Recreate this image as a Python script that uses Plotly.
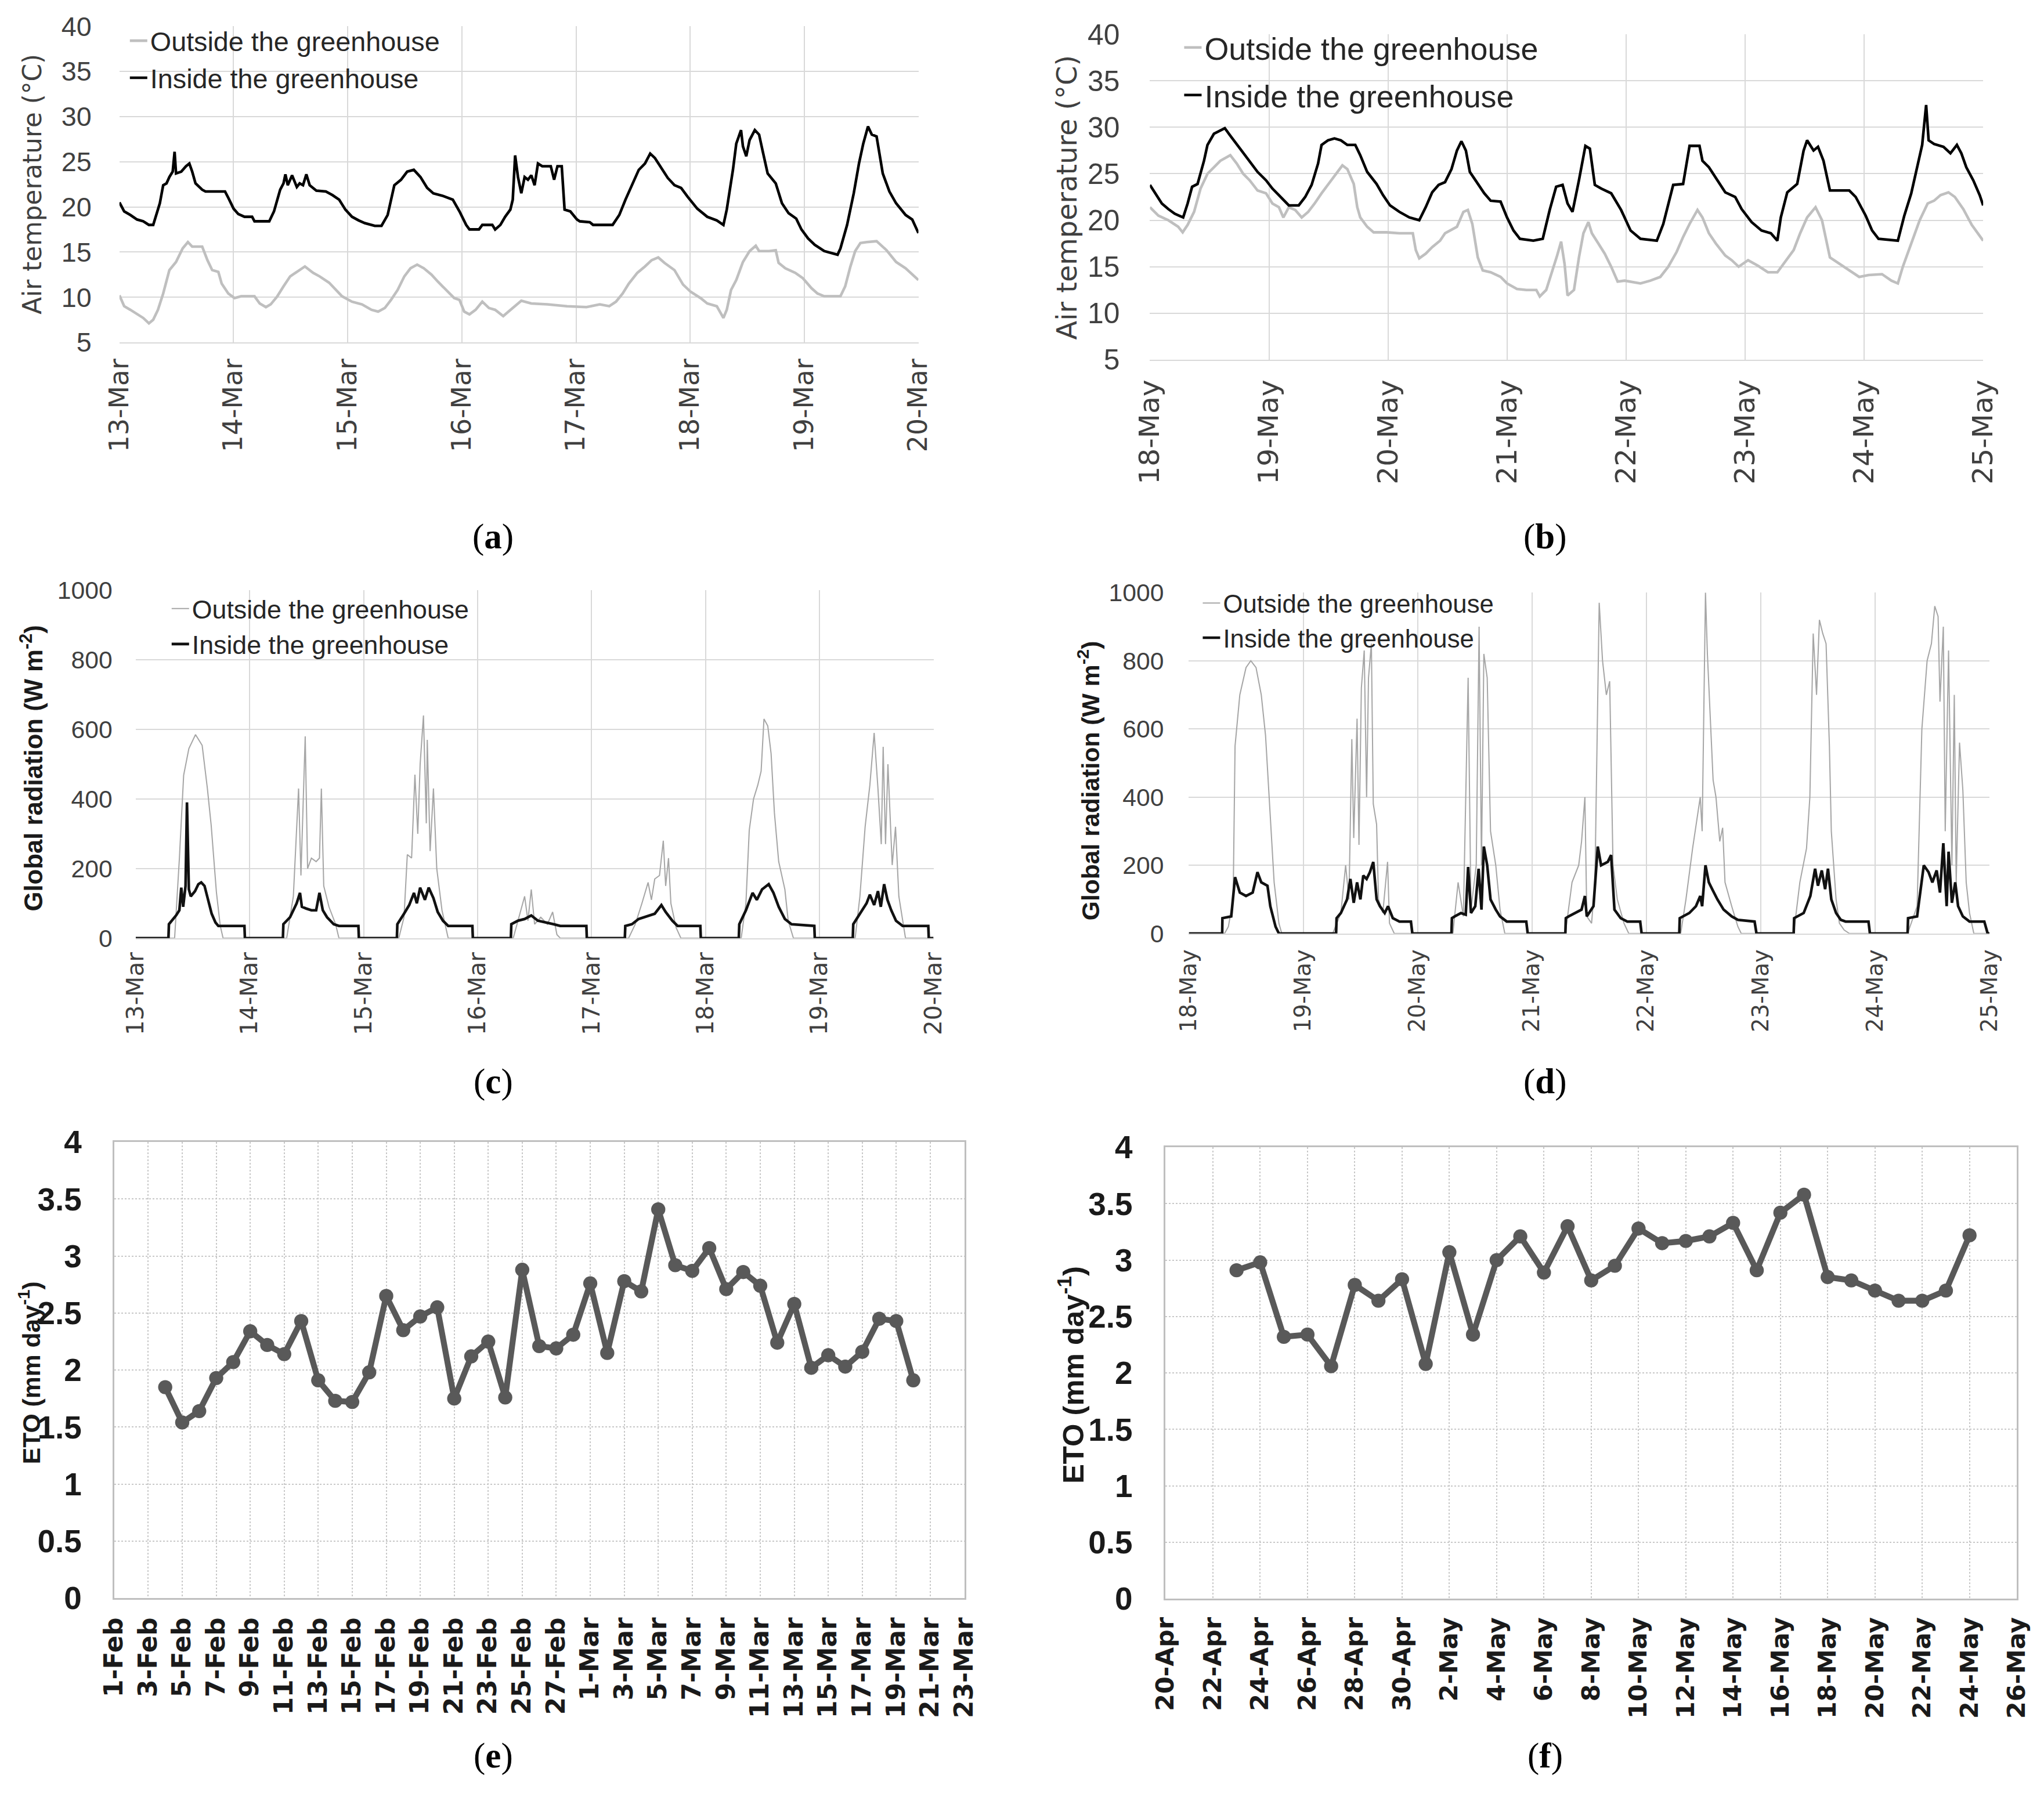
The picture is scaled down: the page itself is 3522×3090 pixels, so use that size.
import pandas as pd
import plotly.graph_objects as go

W, H = 3522, 3090

# ---- data: (hours since start of first day, value) ----
temp_mar_in = [(0, 20.5), (1, 19.5), (2.3, 19.1), (3.7, 18.6), (5, 18.4), (6.2, 18.0), (7.1, 18.0), (7.8, 19.3),
               (8.5, 20.4), (9.2, 22.4), (9.9, 22.6), (10.5, 23.3), (11.2, 23.9), (11.6, 26.1), (11.9, 23.7),
               (13, 23.9), (14, 24.5), (14.7, 24.8), (15.3, 23.9), (16, 22.6), (17.4, 21.9), (18.1, 21.7),
               (22.2, 21.7), (22.9, 21.0), (24, 19.8), (25, 19.2), (26.3, 18.9), (27.9, 18.9), (28.4, 18.4),
               (31.5, 18.4), (32.5, 19.5), (33.8, 21.9), (34.5, 22.6), (34.9, 23.6), (35.4, 22.4), (36.3, 23.5),
               (37.3, 22.2), (37.9, 22.6), (38.6, 22.4), (39.3, 23.6), (40, 22.4), (41.4, 21.8), (43.4, 21.7),
               (44.8, 21.3), (46.2, 20.8), (47.5, 19.7), (48.9, 18.9), (50.3, 18.5), (51.6, 18.2), (53.7, 17.9),
               (55.1, 17.9), (56.4, 19.1), (57.8, 22.4), (59.2, 23.0), (60.5, 23.9), (61.9, 24.1), (63.3, 23.3),
               (64.7, 22.1), (66, 21.5), (68.1, 21.2), (70.1, 20.8), (71.5, 19.5), (72.9, 18.0), (73.6, 17.5),
               (75.6, 17.5), (76.3, 18.0), (78.4, 18.0), (79, 17.5), (80.1, 18.0), (81.1, 18.9), (82.2, 19.7),
               (82.7, 20.8), (83.2, 25.7), (83.8, 23.3), (84.5, 21.5), (85.2, 23.3), (85.9, 23.0), (86.6, 23.5),
               (87.3, 22.4), (88, 24.8), (88.9, 24.5), (90.7, 24.5), (91.4, 23.0), (92.1, 24.5), (93, 24.5),
               (93.6, 19.7), (94.8, 19.5), (96.2, 18.6), (96.8, 18.4), (98.9, 18.3), (99.6, 18.0), (103.7, 18.0),
               (105.1, 19.1), (106.4, 20.8), (107.8, 22.4), (109.2, 24.1), (110.5, 24.8), (111.6, 25.9),
               (112.6, 25.4), (114, 24.3), (115.3, 23.2), (116.7, 22.4), (118.1, 22.1), (119.5, 21.1),
               (121.5, 19.8), (123.6, 18.9), (125.6, 18.5), (127, 18.0), (127.7, 19.7), (129, 24.1), (129.7, 27.0),
               (130.7, 28.5), (131.1, 26.7), (131.8, 25.6), (132.5, 27.4), (133.6, 28.5), (134.5, 28.0),
               (135.2, 26.3), (136.3, 23.7), (138, 22.6), (139.3, 20.4), (140.7, 19.3), (142.3, 18.7),
               (143.4, 17.5), (144.8, 16.5), (146.2, 15.8), (148.2, 15.1), (151, 14.7), (151.6, 15.4), (153, 18.0),
               (154.4, 21.5), (155.5, 24.8), (156.4, 27.0), (157.4, 28.9), (158.2, 28.0), (159.2, 27.8),
               (160.5, 23.7), (161.9, 21.7), (163.3, 20.4), (165.3, 19.1), (166.7, 18.6), (168, 17.1)]

temp_mar_out = [(0, 10.2), (1, 9.0), (2.3, 8.6), (3.7, 8.1), (5, 7.7), (6.2, 7.1), (7.1, 7.5), (8.1, 8.6),
                (9.2, 10.4), (10.5, 13.0), (11.9, 13.9), (13.3, 15.4), (14.4, 16.1), (15.3, 15.6), (17.4, 15.6),
                (18.5, 14.1), (19.5, 13.0), (20.8, 12.8), (21.5, 11.5), (22.9, 10.4), (24.2, 9.9), (25.6, 10.1),
                (28.4, 10.1), (29.5, 9.3), (30.8, 8.9), (31.8, 9.2), (33.2, 10.1), (34.5, 11.2), (35.9, 12.3),
                (37.3, 12.8), (39, 13.4), (40.7, 12.7), (42.1, 12.3), (44.1, 11.6), (45.5, 10.8), (46.8, 10.1),
                (48.9, 9.5), (51, 9.2), (53, 8.6), (54.4, 8.4), (55.8, 8.8), (57.1, 9.7), (58.5, 10.8),
                (59.9, 12.3), (61.2, 13.2), (62.6, 13.6), (64, 13.2), (65.6, 12.5), (67, 11.7), (68.8, 10.8),
                (70.4, 9.9), (71.5, 9.7), (72.5, 8.4), (73.6, 8.1), (74.9, 8.6), (76.3, 9.5), (77.7, 8.8),
                (79, 8.6), (80.7, 7.9), (81.8, 8.4), (83.2, 9.0), (84.5, 9.6), (86.6, 9.3), (90, 9.2), (94.1, 9.0),
                (98.2, 8.9), (101, 9.2), (103, 9.0), (104.4, 9.5), (105.8, 10.4), (107.1, 11.5), (108.9, 12.7),
                (110.5, 13.4), (111.9, 14.1), (113.3, 14.4), (114.6, 13.8), (116.7, 13.0), (118.5, 11.4),
                (120.1, 10.6), (122.2, 9.9), (123.6, 9.3), (125.6, 9.0), (127, 7.7), (127.7, 8.6), (128.6, 10.8),
                (129.7, 11.9), (131.1, 13.9), (132.5, 15.1), (133.8, 15.7), (134.5, 15.1), (136.6, 15.1),
                (138, 15.2), (138.6, 13.8), (140, 13.2), (142.1, 12.7), (143.7, 12.1), (145.5, 11.0),
                (146.8, 10.4), (148.2, 10.1), (151.6, 10.1), (152.6, 11.2), (153.7, 13.4), (154.7, 15.1),
                (155.8, 16.0), (157.1, 16.1), (159.2, 16.2), (161.3, 15.2), (163.3, 13.9), (165.3, 13.2),
                (166.7, 12.5), (168, 11.9)]

temp_may_in = [(0, 23.8), (1.05, 22.9), (2.4, 21.8), (3.7, 21.2), (5, 20.7), (6.7, 20.3), (7.6, 21.8), (8.5, 23.6),
               (9.6, 23.9), (10.9, 26.4), (11.6, 28.1), (12.9, 29.3), (14.2, 29.7), (15.1, 29.9), (16.2, 29.1),
               (17.5, 28.2), (18.8, 27.2), (20.1, 26.3), (21.7, 25.2), (23.4, 24.3), (24.7, 23.4), (26, 22.7),
               (28, 21.6), (30, 21.6), (31.3, 22.5), (32.6, 23.8), (33.9, 26.1), (34.6, 28.1), (35.9, 28.6),
               (37.2, 28.8), (38.5, 28.6), (39.8, 28.1), (41.4, 28.1), (42.4, 27.0), (43.8, 25.2), (45.7, 23.9),
               (47, 22.7), (48.4, 21.6), (50.3, 20.9), (52.3, 20.3), (54.3, 20.0), (55.6, 21.4), (56.9, 23.0),
               (58.2, 23.8), (59.5, 24.1), (60.8, 25.5), (61.9, 27.5), (62.8, 28.5), (63.7, 27.5), (64.5, 25.2),
               (66.1, 23.9), (67.4, 22.9), (68.7, 22.1), (70.7, 22.0), (72, 20.3), (73.3, 18.9), (74.6, 18.0),
               (77.3, 17.8), (79.2, 18.0), (80.6, 21.1), (81.9, 23.6), (83.2, 23.8), (84.2, 21.8), (85.2, 20.9),
               (86.5, 24.3), (87.8, 28.0), (88.7, 27.7), (89.7, 23.8), (91, 23.4), (93, 22.9), (95, 21.1),
               (96.9, 18.9), (98.9, 18.0), (102.2, 17.8), (103.5, 19.6), (105.5, 23.8), (107.5, 23.9),
               (108.8, 28.0), (110.8, 28.0), (111.4, 26.4), (112.7, 25.7), (114.1, 24.5), (116, 23.0),
               (118, 22.5), (119.3, 21.2), (121.3, 19.8), (123.3, 18.9), (125.2, 18.6), (126.5, 17.8),
               (127.2, 20.3), (128.5, 23.0), (130.5, 23.9), (131.8, 27.5), (132.5, 28.6), (133.8, 27.5),
               (134.7, 27.9), (135.8, 26.4), (137.1, 23.2), (141, 23.2), (142.3, 22.5), (144.3, 20.5),
               (145.6, 18.9), (146.9, 18.0), (150.8, 17.8), (152.1, 20.5), (153.5, 22.9), (154.8, 26.1),
               (155.7, 28.1), (156.5, 32.4), (157, 28.6), (158.1, 28.2), (160, 27.9), (161.4, 27.2), (162.7, 28.1),
               (163.6, 27.2), (164.6, 25.7), (166, 24.3), (167.3, 22.7), (168, 21.6)]

temp_may_out = [(0, 21.4), (1.7, 20.5), (3.7, 20.0), (5.7, 19.3), (6.6, 18.7), (7.6, 19.5), (8.9, 20.9),
                (10.2, 23.4), (11.6, 25.0), (12.9, 25.7), (14.2, 26.4), (16.2, 27.0), (17.5, 26.1), (18.8, 25.0),
                (20.1, 24.3), (21.7, 23.2), (23.4, 22.9), (24.7, 21.8), (26, 21.4), (26.9, 20.3), (28, 21.4),
                (29.3, 21.1), (30.6, 20.3), (31.9, 20.9), (33.2, 21.8), (34.6, 22.9), (35.9, 23.8), (37.2, 24.7),
                (38.8, 25.9), (39.8, 25.5), (41.1, 23.9), (41.8, 21.4), (42.4, 20.3), (43.8, 19.3), (45.1, 18.7),
                (47.7, 18.7), (50.3, 18.6), (53, 18.6), (53.6, 16.8), (54.3, 15.9), (55.6, 16.4), (56.9, 17.1),
                (58.5, 17.8), (59.5, 18.6), (60.6, 18.9), (61.9, 19.3), (63.2, 20.9), (64.1, 21.1), (65, 19.6),
                (66.1, 16.0), (67.1, 14.6), (68.7, 14.4), (70.7, 13.9), (72, 13.2), (74, 12.6), (75.9, 12.5),
                (77.9, 12.5), (78.6, 11.8), (79.9, 12.5), (81.2, 14.6), (82.1, 16.2), (82.9, 17.7), (83.6, 15.3),
                (84.2, 11.9), (85.5, 12.5), (86.5, 16.0), (87.4, 18.6), (88.4, 19.8), (89.1, 18.6), (90.4, 17.5),
                (91.7, 16.4), (93, 15.0), (94.3, 13.4), (95.7, 13.5), (96.9, 13.4), (98.9, 13.2), (100.9, 13.5),
                (102.9, 13.9), (104.5, 15.0), (106.2, 16.6), (107.5, 18.2), (108.8, 19.6), (110.4, 21.1),
                (111.4, 20.3), (112.7, 18.6), (114.1, 17.5), (116, 16.2), (117.3, 15.7), (118.7, 15.0),
                (120.6, 15.7), (122.6, 15.1), (124.6, 14.4), (126.5, 14.4), (127.8, 15.3), (129.8, 16.8),
                (131.1, 18.6), (132.5, 20.3), (134.2, 21.4), (135.5, 20.0), (137.1, 16.0), (139.1, 15.3),
                (141, 14.6), (143, 13.9), (144.9, 14.1), (147.6, 14.2), (149.5, 13.5), (150.8, 13.2),
                (151.8, 15.0), (153.5, 17.5), (155.2, 20.0), (156.8, 21.8), (158.1, 22.1), (159.4, 22.7),
                (161, 23.0), (162.3, 22.5), (164, 21.2), (165.7, 19.5), (167, 18.6), (168, 17.8)]

rad_mar_in = [(0, 0), (6.9, 0), (7.0, 40), (8.5, 65), (9.2, 80), (9.6, 145), (10, 90), (10.5, 150), (10.8, 390),
              (11.2, 140), (11.6, 120), (12.5, 135), (13.2, 155), (13.8, 160), (14.5, 150), (15.2, 110), (16, 70),
              (16.8, 45), (17.4, 35), (22.9, 35), (23, 0),
              (31.0, 0), (31.1, 40), (32.5, 60), (33.9, 100), (34.6, 130), (35, 90), (35.9, 85), (37, 80), (38, 80),
              (38.7, 130), (39.4, 80), (40.3, 60), (41.7, 40), (42.8, 35), (46.9, 35), (47, 0),
              (55.0, 0), (55.1, 40), (56.5, 70), (57.6, 95), (58.6, 130), (59.2, 100), (59.9, 145), (60.9, 110),
              (61.7, 145), (62.7, 115), (63.6, 75), (64.7, 50), (65.8, 35), (70.9, 35), (71, 0),
              (79.0, 0), (79.1, 40), (80.5, 50), (81.9, 55), (83.3, 65), (84.7, 50), (86.7, 45), (88, 40),
              (89.4, 35), (94.9, 35), (95, 0),
              (103.0, 0), (103.1, 35), (104.5, 40), (105.9, 55), (107.2, 60), (109.3, 70), (110.7, 95),
              (111.6, 75), (113, 50), (114.1, 35), (118.9, 35), (119, 0),
              (127.0, 0), (127.1, 40), (128.5, 80), (129.9, 130), (130.8, 110), (131.9, 140), (133.3, 155),
              (134.3, 130), (135.4, 90), (136.7, 55), (138.1, 40), (142.9, 35), (143, 0),
              (151.0, 0), (151.1, 40), (152.5, 70), (153.9, 100), (154.6, 125), (155.5, 95), (156.3, 135),
              (156.9, 90), (157.6, 155), (158.3, 110), (159.1, 80), (160.1, 50), (161.5, 35), (166.9, 35),
              (167, 0), (168, 0)]

rad_mar_out = [(0, 0), (8.2, 0), (9.2, 228), (10.1, 468), (11.2, 545), (12.6, 585), (14.0, 554), (15.1, 430),
               (15.9, 324), (17.0, 132), (17.8, 36), (18.4, 0),
               (31.8, 0), (33.2, 120), (34.3, 430), (34.8, 180), (35.7, 580), (36.2, 200), (37, 230), (38, 220),
               (38.7, 230), (39.1, 430), (39.6, 150), (40.7, 90), (42.1, 40), (42.8, 0),
               (55.4, 0), (56.5, 60), (57.2, 240), (58.1, 230), (58.8, 470), (59.4, 300), (59.9, 500), (60.6, 640),
               (61.2, 330), (61.4, 570), (62, 250), (62.7, 430), (63.4, 200), (64.5, 80), (65.8, 0),
               (79.5, 0), (80.5, 50), (81.9, 120), (82.6, 50), (83.3, 140), (84, 40), (85.3, 60), (86.7, 40),
               (87.8, 75), (88.7, 10), (89.4, 0),
               (103.8, 0), (105.2, 40), (106.6, 100), (107.9, 160), (108.6, 110), (109.3, 170), (110.3, 180),
               (111.1, 280), (111.6, 150), (112.2, 230), (112.7, 100), (113.8, 30), (114.8, 0),
               (127.5, 0), (128.5, 100), (129.2, 310), (130.1, 400), (131, 440), (131.7, 480), (132.3, 630),
               (133.1, 610), (133.8, 530), (134.5, 360), (135.4, 220), (136.7, 140), (137.4, 50), (138.5, 0),
               (151.5, 0), (152.5, 120), (153.6, 320), (154.6, 440), (155.5, 590), (156.3, 430), (157, 270),
               (157.4, 550), (157.9, 270), (158.4, 500), (159.3, 210), (160, 320), (160.7, 120), (162.1, 0),
               (168, 0)]

rad_may_in = [(0, 0), (7.0, 0), (7.05, 45), (8.9, 50), (9.7, 165), (10.7, 120), (12, 110), (13.4, 120),
              (14.4, 180), (15.2, 150), (16.5, 140), (17.1, 80), (18.2, 20), (18.9, 0),
              (30.9, 0), (31.0, 45), (31.9, 60), (33.2, 100), (33.9, 160), (34.6, 90), (35.3, 150), (36, 100),
              (36.6, 170), (37.3, 160), (38, 180), (38.7, 210), (39.4, 100), (40.1, 80), (41.1, 60), (41.8, 80),
              (42.8, 45), (44.2, 35), (46.6, 35), (46.9, 0),
              (55.1, 0), (55.2, 45), (55.8, 50), (57.1, 60), (58.1, 55), (58.6, 195), (59.2, 60), (60.1, 80),
              (60.8, 190), (61.4, 70), (61.9, 255), (62.6, 200), (63.3, 100), (64.4, 70), (65.3, 50), (66.7, 35),
              (70.8, 35), (71.1, 0),
              (79, 0), (79.1, 45), (79.7, 50), (81.1, 60), (82.4, 70), (83.1, 110), (83.5, 50), (84.9, 80),
              (85.8, 255), (86.5, 200), (87.9, 210), (88.6, 230), (89.3, 70), (90.6, 45), (92, 35), (94.7, 35),
              (95, 0),
              (102.9, 0), (103, 45), (105, 60), (106.4, 80), (107.3, 110), (107.7, 80), (108.4, 200),
              (109.1, 150), (109.8, 130), (110.9, 100), (112.2, 70), (113.9, 50), (115.2, 40), (118.7, 35),
              (119.1, 0),
              (126.9, 0), (127, 45), (129, 60), (130.4, 110), (131.4, 190), (132, 140), (132.8, 185), (133.5, 130),
              (134.1, 190), (134.8, 100), (135.8, 60), (136.8, 40), (137.8, 35), (142.6, 35), (142.9, 0),
              (150.8, 0), (150.9, 45), (152.8, 50), (154.2, 200), (155.2, 180), (156, 150), (156.9, 185),
              (157.6, 120), (158.3, 265), (159, 80), (159.4, 240), (160.1, 90), (160.8, 150), (161.4, 80),
              (162.4, 50), (163.8, 35), (166.9, 35), (167.6, 0), (168, 0)]

rad_may_out = [(0, 0), (7.5, 0), (8.3, 20), (9.3, 100), (9.7, 550), (10.7, 700), (12, 780), (13, 800), (14.1, 780),
               (15.2, 700), (16.1, 580), (17.1, 350), (17.9, 150), (18.9, 30), (19.5, 0),
               (30.2, 0), (31.9, 60), (32.9, 200), (33.6, 100), (34.2, 570), (34.6, 280), (35.3, 630), (35.7, 260),
               (36.2, 720), (36.8, 830), (37.3, 400), (37.7, 750), (38.3, 850), (38.7, 380), (39.4, 320),
               (39.8, 100), (40.7, 60), (41.7, 210), (42.1, 30), (43.1, 0),
               (55.4, 0), (56.5, 150), (57.6, 50), (58.6, 750), (59.2, 70), (60.3, 200), (60.9, 900), (61.4, 200),
               (61.9, 820), (62.6, 750), (63.3, 300), (64.4, 200), (65.3, 70), (66.3, 0),
               (79, 0), (80.4, 150), (81.8, 200), (82.4, 270), (83.1, 400), (83.5, 50), (84.5, 30), (85.2, 150),
               (86.1, 970), (86.8, 800), (87.6, 700), (88.3, 740), (89, 200), (89.9, 100), (91.3, 30), (92.3, 0),
               (103.2, 0), (104.3, 100), (105.7, 250), (106.8, 350), (107.3, 400), (107.7, 300), (108.4, 1000),
               (108.8, 820), (109.5, 600), (110, 450), (110.6, 400), (111.4, 270), (112, 310), (112.5, 150),
               (113.9, 80), (115.2, 20), (115.9, 0),
               (126.9, 0), (128.2, 150), (129.6, 250), (130.3, 400), (131, 880), (131.7, 700), (132.3, 920),
               (133, 880), (133.7, 850), (134.4, 550), (134.8, 300), (135.8, 100), (136.5, 30), (137.5, 10),
               (138.6, 0),
               (150.8, 0), (152.8, 80), (153.8, 600), (154.9, 800), (155.8, 850), (156.5, 960), (157.2, 930),
               (157.6, 680), (158.3, 900), (158.7, 300), (159.4, 830), (160.1, 200), (160.6, 700), (161, 150),
               (161.7, 560), (162.4, 420), (163.1, 150), (163.8, 60), (164.7, 0), (168, 0)]

# daily ET0, one value per day
eto_feb_first = "2019-02-04"
eto_feb = [1.85, 1.54, 1.64, 1.93, 2.07, 2.34, 2.22, 2.14, 2.43, 1.91, 1.73, 1.72, 1.98, 2.65, 2.35,
           2.47, 2.55, 1.75, 2.12, 2.25, 1.76, 2.88, 2.21, 2.19, 2.31, 2.76, 2.15, 2.78, 2.69, 3.41,
           2.92, 2.87, 3.07, 2.71, 2.86, 2.74, 2.24, 2.58, 2.02, 2.13, 2.03, 2.16, 2.45, 2.43, 1.91]
eto_may_first = "2019-04-23"
eto_may = [2.91, 2.98, 2.32, 2.34, 2.06, 2.78, 2.64, 2.83, 2.08, 3.07, 2.34, 3.00, 3.21, 2.89, 3.30, 2.82,
           2.95, 3.28, 3.15, 3.17, 3.21, 3.33, 2.91, 3.42, 3.58, 2.85, 2.82, 2.73, 2.64, 2.64, 2.73, 3.22]

mar_start = pd.Timestamp("2019-03-13")
may_start = pd.Timestamp("2019-05-18")

OUT_NAME = "Outside the greenhouse"
IN_NAME = "Inside the greenhouse"

# The photographed page comes out slightly shrunk and centred, so every position and size
# measured on the target (in target pixels) is mapped back through this before use.
S = 0.984
OX = W * (1 - S) / 2
OY = H * (1 - S) / 2


def fx(px):
    return (px - OX) / S / W


def fy(py):
    return 1 - (py - OY) / S / H


def sz(v):
    return v / S


def to_xy(pairs, start):
    xs = [start + pd.Timedelta(hours=h) for h, _ in pairs]
    ys = [v for _, v in pairs]
    return xs, ys


# panel boxes in target pixels: left, right, top, bottom
boxes = {
    1: (205, 1582, 39, 586),
    2: (1981, 3417, 53, 616),
    3: (233, 1608, 1015, 1617),
    4: (2048, 3428, 1019, 1609),
    5: (196, 1661, 1970, 2759),
    6: (2008, 3475, 1979, 2760),
}

fig = go.Figure()

# (a) and (b) air temperature, (c) and (d) global radiation
series = [
    (1, "legend", temp_mar_out, temp_mar_in, mar_start, "#bfbfbf", 4.5, "#000000", 4.5),
    (2, "legend2", temp_may_out, temp_may_in, may_start, "#bfbfbf", 4.5, "#000000", 4.5),
    (3, "legend3", rad_mar_out, rad_mar_in, mar_start, "#a6a6a6", 2, "#111111", 4.5),
    (4, "legend4", rad_may_out, rad_may_in, may_start, "#a6a6a6", 2, "#111111", 4.5),
]
for n, leg, out_s, in_s, start, oc, ow, ic, iw in series:
    ax = "" if n == 1 else str(n)
    x, y = to_xy(out_s, start)
    fig.add_trace(go.Scatter(x=x, y=y, mode="lines", name=OUT_NAME, legend=leg, legendgroup="o%d" % n,
                             line=dict(color=oc, width=sz(ow)), xaxis="x" + ax, yaxis="y" + ax))
    x, y = to_xy(in_s, start)
    fig.add_trace(go.Scatter(x=x, y=y, mode="lines", name=IN_NAME, legend=leg, legendgroup="i%d" % n,
                             line=dict(color=ic, width=sz(iw)), xaxis="x" + ax, yaxis="y" + ax))

# (e) and (f) ET0
for n, first, vals in [(5, eto_feb_first, eto_feb), (6, eto_may_first, eto_may)]:
    days = pd.date_range(first, periods=len(vals), freq="D")
    fig.add_trace(go.Scatter(x=days, y=vals, mode="lines+markers", showlegend=False,
                             line=dict(color="#595959", width=sz(10)),
                             marker=dict(color="#595959", size=sz(24)),
                             xaxis="x%d" % n, yaxis="y%d" % n))

layout = dict(width=W, height=H, margin=dict(l=0, r=0, t=0, b=0),
              paper_bgcolor="white", plot_bgcolor="white", showlegend=True)

GRID = "#d9d9d9"
day_ms = 86400000
# x: range, tick step, first tick, font size, bold, label standoff
x_specs = {
    1: (["2019-03-13", "2019-03-20"], day_ms, "2019-03-13", 45, False, 8),
    2: (["2019-05-18", "2019-05-25"], day_ms, "2019-05-18", 48, False, 13),
    3: (["2019-03-13", "2019-03-20"], day_ms, "2019-03-13", 40, False, 6),
    4: (["2019-05-18", "2019-05-25"], day_ms, "2019-05-18", 38, False, 10),
    5: (["2019-02-01", "2019-03-23"], 2 * day_ms, "2019-02-01", 43, True, 13),
    6: (["2019-04-20", "2019-05-26"], 2 * day_ms, "2019-04-20", 42, True, 12),
}
# y: range, tick step, font size, bold, label standoff
y_specs = {
    1: ([5, 40], 5, 46, False, 47),
    2: ([5, 40], 5, 49, False, 51),
    3: ([0, 1000], 200, 42, False, 39),
    4: ([0, 1000], 200, 42, False, 42),
    5: ([0, 4], 0.5, 54, True, 42),
    6: ([0, 4], 0.5, 54, True, 43),
}

for n, (l, r, t, b) in boxes.items():
    ax = "" if n == 1 else str(n)
    xr, xd, x0, xfs, xb, xso = x_specs[n]
    yr, yd, yfs, yb, yso = y_specs[n]
    eto = n >= 5
    layout["xaxis" + ax] = dict(
        domain=[fx(l), fx(r)], anchor="y" + ax, type="date",
        range=xr, tick0=x0, dtick=xd, tickformat="%-d-%b",
        tickangle=-90, ticks="", ticklabelstandoff=xso,
        tickfont=dict(family="DejaVu Sans", size=sz(xfs), color="#1a1a1a" if eto else "#404040",
                      weight="bold" if xb else "normal"),
        showgrid=True, gridcolor="#c8c8c8" if eto else GRID, gridwidth=2,
        griddash="dot" if eto else "solid",
        showline=True, linecolor="#bfbfbf" if eto else GRID, linewidth=3 if eto else 2,
        mirror=eto, zeroline=False, fixedrange=True,
    )
    layout["yaxis" + ax] = dict(
        domain=[fy(b), fy(t)], anchor="x" + ax,
        range=yr, dtick=yd, tick0=0, ticks="", ticklabelstandoff=yso,
        tickfont=dict(family="Liberation Sans", size=sz(yfs), color="#1a1a1a" if eto else "#404040",
                      weight="bold" if yb else "normal"),
        showgrid=True, gridcolor="#c8c8c8" if eto else GRID, gridwidth=2,
        griddash="dot" if eto else "solid",
        showline=eto, linecolor="#bfbfbf", linewidth=3, mirror=eto,
        zeroline=False, fixedrange=True,
    )

# legends inside the four upper panels: left px, top px, font size, extra row gap
legend_specs = {
    "legend": (218, 27, 46, 0),
    "legend2": (2035, 34, 53, 9),
    "legend3": (290, 1011, 44, 0),
    "legend4": (2067, 1002, 43, 0),
}
for key, (lx, ly, fs, gap) in legend_specs.items():
    layout[key] = dict(x=fx(lx), y=fy(ly), xanchor="left", yanchor="top",
                       bgcolor="rgba(0,0,0,0)", borderwidth=0, tracegroupgap=gap,
                       itemwidth=30, font=dict(family="Liberation Sans", size=sz(fs), color="#262626"))

fig.update_layout(**layout)

# y axis titles: centre x (page px, kept inside the page), centre y (target px)
titles = [
    (max((53 - OX) / S, 27), 312, "Air temperature (°C)", "DejaVu Sans", 43, "normal", "#404040"),
    ((1839 - OX) / S, 335, "Air temperature (°C)", "DejaVu Sans", 47, "normal", "#404040"),
    (max((52 - OX) / S, 26), 1323, "Global radiation (W m<sup>-2</sup>)", "Liberation Sans", 43, "bold", "#1a1a1a"),
    ((1875 - OX) / S, 1344, "Global radiation (W m<sup>-2</sup>)", "Liberation Sans", 42, "bold", "#1a1a1a"),
    (22, 2369, "ETO (mm day<sup>-1</sup>)", "Liberation Sans", 42, "bold", "#1a1a1a"),
    ((1845 - OX) / S, 2373, "ETO (mm day<sup>-1</sup>)", "Liberation Sans", 50, "bold", "#1a1a1a"),
]
for xc, ty, text, fam, fs, wt, col in titles:
    fig.add_annotation(x=xc / W, y=fy(ty), xref="paper", yref="paper", text=text, showarrow=False,
                       textangle=-90, xanchor="center", yanchor="middle",
                       font=dict(family=fam, size=sz(fs), color=col, weight=wt))

# panel letters
letters = [(849, 922, "a"), (2662, 922, "b"), (849, 1865, "c"), (2662, 1865, "d"),
           (849, 3032, "e"), (2662, 3032, "f")]
for tx, ty, letter in letters:
    fig.add_annotation(x=fx(tx), y=fy(ty), xref="paper", yref="paper", text="(<b>%s</b>)" % letter,
                       showarrow=False, xanchor="center", yanchor="middle",
                       font=dict(family="Liberation Serif", size=sz(60), color="#000000"))

# page without the default body margin, so the figure starts at the window corner
fig.write_html("out.html", config={"displayModeBar": False},
               post_script="document.body.style.margin='0px';"
                           "document.documentElement.style.overflow='hidden';")
